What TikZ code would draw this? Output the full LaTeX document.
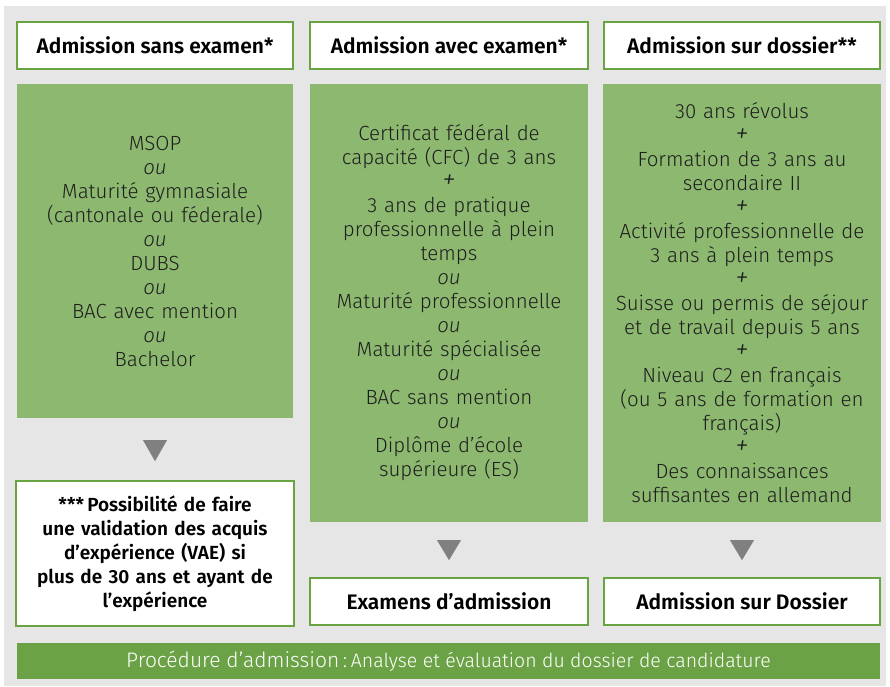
\documentclass[tikz,border=0pt]{standalone}
\usepackage{fontspec}
\setmainfont{Fira Sans}[UprightFont=* Light, ItalicFont=* Light Italic, BoldFont=* SemiBold]
\usepackage{xcolor}
\usepackage{tikz}
\usetikzlibrary{positioning,calc}

\definecolor{bggray}{HTML}{E5E6E5}
\definecolor{boxgreen}{HTML}{8DB870}
\definecolor{linegreen}{HTML}{6AA342}
\definecolor{bargreen}{HTML}{6BA246}
\definecolor{tipgray}{HTML}{808080}
\definecolor{txtdark}{HTML}{1E1E1E}

\tikzset{
  headbox/.style={draw=linegreen, line width=2pt, fill=white, minimum height=47pt,
    align=center, font=\fontsize{21}{24}\selectfont\bfseries, text=black},
  condbox/.style={fill=boxgreen, align=center, text=txtdark,
    font=\fontsize{20.5}{24}\selectfont},
  tipmark/.style={fill=tipgray},
  barbox/.style={fill=bargreen, text=white, minimum width=863pt, minimum height=36pt}
}
\newcommand{\alt}{\textit{ou}}
\newcommand{\plus}{{\fontsize{27}{24}\selectfont\textit{+}}}

\begin{document}
\begin{tikzpicture}[x=1pt,y=-1pt]
	\useasboundingbox (0,0) rectangle (890,686);
	\fill[bggray] (4,6) rectangle (886,686);
	% headers
	\node[headbox, minimum width=276pt] (hsans) at (155,45.5) {Admission sans examen*};
	\node[headbox, minimum width=278pt] (havec) at (449,45.5) {Admission avec examen*};
	\node[headbox, minimum width=276pt] (hdoss) at (742,45.5) {Admission sur dossier**};
	% conditions
	\node[condbox, minimum width=276pt, minimum height=334pt, text width=270pt] (csans) at (155,251)
	  {MSOP\\ \alt\\ Maturité gymnasiale\\ (cantonale ou féderale)\\ \alt\\ DUBS\\ \alt\\
	   BAC avec mention\\ \alt\\ Bachelor};
	\node[condbox, minimum width=278pt, minimum height=438pt, text width=272pt] (cavec) at (449,303)
	  {Certificat fédéral de\\ capacité (CFC) de 3 ans\\ \plus\\ 3 ans de pratique\\
	   professionnelle à plein\\ temps\\ \alt\\ Maturité professionnelle\\ \alt\\
	   Maturité spécialisée\\ \alt\\ BAC sans mention\\ \alt\\ Diplôme d'école\\ supérieure (ES)};
	\node[condbox, minimum width=276pt, minimum height=438pt, text width=272pt] (cdoss) at (742,303)
	  {30 ans révolus\\ \plus\\ Formation de 3 ans au\\ secondaire II\\ \plus\\
	   Activité professionnelle de\\ 3 ans à plein temps\\ \plus\\
	   Suisse ou permis de séjour\\ et de travail depuis 5 ans\\ \plus\\
	   Niveau C2 en français\\ (ou 5 ans de formation en\\ français)\\ \plus\\
	   Des connaissances\\ suffisantes en allemand};
	% results
	\node[headbox, minimum width=276pt, minimum height=145pt, text width=272pt,
	      font=\fontsize{19}{24}\selectfont\bfseries] (rvae) at (155,553.5)
	  {***\,Possibilité de faire\\ une validation des acquis\\ d'expérience (VAE) si\\
	   plus de 30 ans et ayant de\\ l'expérience};
	\node[headbox, minimum width=278pt] (rexam) at (449,601.5) {Examens d'admission};
	\node[headbox, minimum width=276pt] (rdoss) at (742,601.5) {Admission sur Dossier};
	% arrows
	\fill[tipmark] ($(csans.south)+(-12,22)$) -- ++(24,0) -- ++(-12,21) -- cycle;
	\fill[tipmark] ($(cavec.south)+(-12,18)$) -- ++(24,0) -- ++(-12,20) -- cycle;
	\fill[tipmark] ($(cdoss.south)+(-12,18)$) -- ++(24,0) -- ++(-12,20) -- cycle;
	% procedure
	\node[barbox] (proc) at (448.5,661)
	  {{\fontsize{21}{20}\selectfont Procédure d'admission\,:} {\fontsize{19.5}{20}\selectfont Analyse et évaluation du dossier de candidature}};
\end{tikzpicture}
\end{document}
